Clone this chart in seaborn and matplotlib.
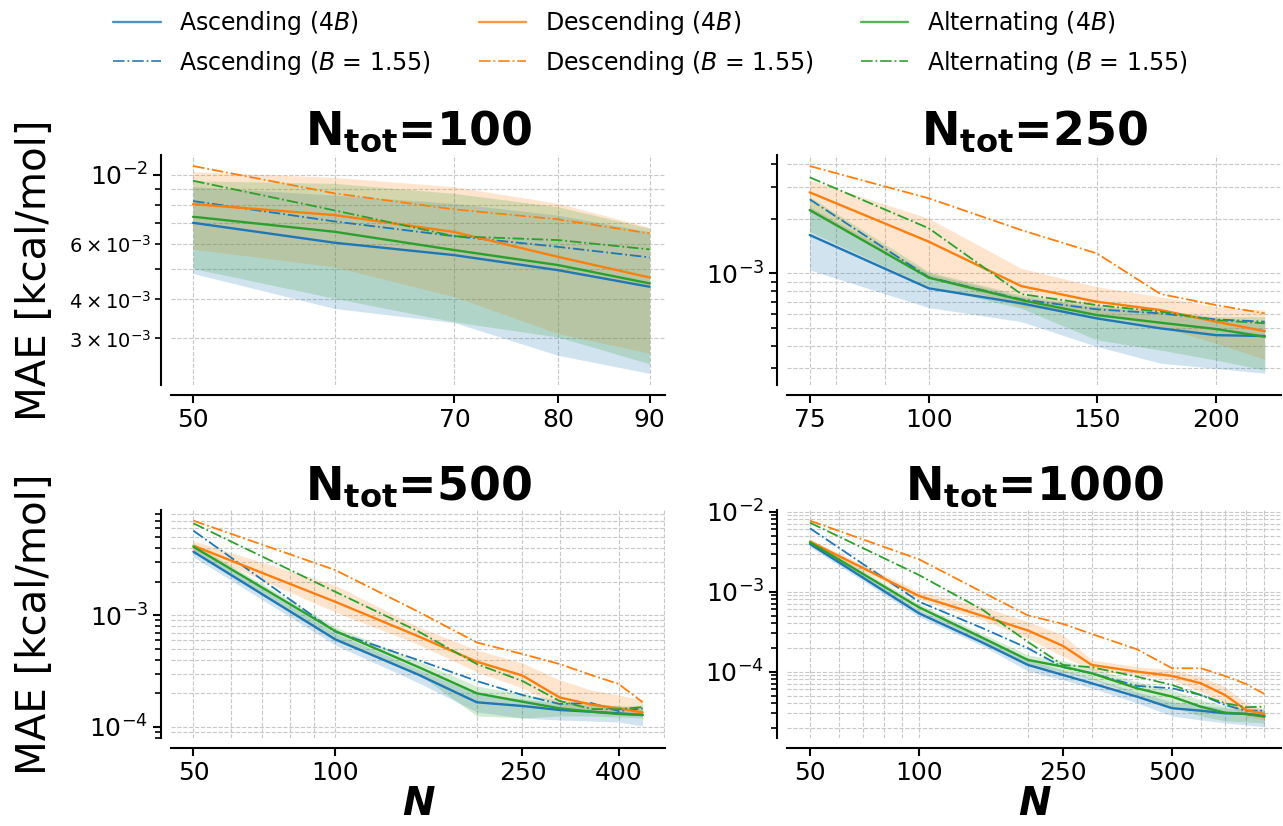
import matplotlib
matplotlib.use("Agg")
import matplotlib.pyplot as plt
import seaborn as sns
from matplotlib.lines import Line2D
from matplotlib.ticker import NullFormatter

# ---------------- data ----------------
N_tot = [100, 250, 500, 1000]

N1 = [50, 60, 70, 80, 90]
N2 = [75, 100, 125, 150, 175, 200, 225]
N3 = [50, 100, 150, 200, 250, 300, 350, 400, 450]
N4 = [50, 100, 150, 200, 250, 300, 400, 500, 600, 700, 800, 900]

xticks1 = [50, 70, 80, 90]
xticks2 = [75, 100, 150, 200]
xticks3 = [50, 100, 250, 400]
xticks4 = [50, 100, 250, 500]

# panel N_tot = 100
asc4_1 = [7.03e-3, 6.07e-3, 5.54e-3, 4.96e-3, 4.39e-3]
desc4_1 = [8.07e-3, 7.44e-3, 6.57e-3, 5.47e-3, 4.70e-3]
alt4_1 = [7.35e-3, 6.58e-3, 5.75e-3, 5.15e-3, 4.50e-3]
ascB_1 = [8.25e-3, 7.10e-3, 6.37e-3, 5.89e-3, 5.45e-3]
descB_1 = [1.068e-2, 8.73e-3, 7.76e-3, 7.21e-3, 6.50e-3]
altB_1 = [9.58e-3, 7.70e-3, 6.37e-3, 6.19e-3, 5.78e-3]
asc4_lo_1 = [4.84e-3, 3.74e-3, 3.37e-3, 2.65e-3, 2.32e-3]
asc4_hi_1 = [9.17e-3, 8.62e-3, 8.11e-3, 7.44e-3, 6.58e-3]
desc4_lo_1 = [5.79e-3, 5.08e-3, 4.08e-3, 3.11e-3, 2.69e-3]
desc4_hi_1 = [1.024e-2, 9.82e-3, 9.17e-3, 8.11e-3, 6.80e-3]
alt4_lo_1 = [5.02e-3, 4.03e-3, 3.39e-3, 3.03e-3, 2.49e-3]
alt4_hi_1 = [9.58e-3, 9.40e-3, 8.73e-3, 7.91e-3, 6.75e-3]

# panel N_tot = 250
asc4_2 = [1.626e-3, 8.27e-4, 6.84e-4, 5.65e-4, 4.98e-4, 4.57e-4, 4.52e-4]
desc4_2 = [2.792e-3, 1.493e-3, 8.51e-4, 6.98e-4, 6.28e-4, 5.42e-4, 4.81e-4]
alt4_2 = [2.231e-3, 9.46e-4, 7.13e-4, 5.89e-4, 5.35e-4, 4.94e-4, 4.48e-4]
ascB_2 = [2.555e-3, 9.51e-4, 7.19e-4, 6.34e-4, 6.02e-4, 5.58e-4, 5.42e-4]
descB_2 = [3.895e-3, 2.587e-3, 1.731e-3, 1.288e-3, 7.69e-4, 6.69e-4, 6.02e-4]
altB_2 = [3.376e-3, 1.769e-3, 7.69e-4, 6.69e-4, 6.15e-4, 5.53e-4, 5.31e-4]
asc4_lo_2 = [1.043e-3, 6.48e-4, 5.42e-4, 3.96e-4, 3.20e-4, 3.00e-4, 2.82e-4]
asc4_hi_2 = [2.325e-3, 1.0e-3, 7.43e-4, 6.55e-4, 6.15e-4, 5.53e-4, 5.42e-4]
desc4_lo_2 = [2.183e-3, 9.58e-4, 6.55e-4, 6.02e-4, 5.08e-4, 4.12e-4, 3.36e-4]
desc4_hi_2 = [3.263e-3, 2.007e-3, 1.065e-3, 8.44e-4, 7.43e-4, 6.55e-4, 6.28e-4]
alt4_lo_2 = [1.694e-3, 8.44e-4, 6.42e-4, 4.30e-4, 3.78e-4, 3.33e-4, 2.94e-4]
alt4_hi_2 = [2.640e-3, 1.02e-3, 7.60e-4, 6.69e-4, 6.28e-4, 5.77e-4, 5.77e-4]

# panel N_tot = 500
asc4_3 = [3.71e-3, 6.10e-4, 2.95e-4, 1.664e-4, 1.542e-4, 1.420e-4, 1.371e-4, 1.326e-4, 1.281e-4]
desc4_3 = [4.20e-3, 1.323e-3, 6.50e-4, 3.84e-4, 2.89e-4, 1.836e-4, 1.590e-4, 1.470e-4, 1.348e-4]
alt4_3 = [4.11e-3, 7.24e-4, 3.45e-4, 2.003e-4, 1.684e-4, 1.470e-4, 1.371e-4, 1.307e-4, 1.281e-4]
ascB_3 = [5.72e-3, 7.13e-4, 3.98e-4, 2.58e-4, 1.934e-4, 1.607e-4, 1.640e-4, 1.390e-4, 1.470e-4]
descB_3 = [7.03e-3, 2.544e-3, 1.08e-3, 5.71e-4, 4.50e-4, 3.66e-4, 2.92e-4, 2.43e-4, 1.667e-4]
altB_3 = [6.66e-3, 1.627e-3, 7.20e-4, 3.66e-4, 2.58e-4, 1.709e-4, 1.449e-4, 1.441e-4, 1.510e-4]
asc4_lo_3 = [3.33e-3, 5.42e-4, 2.50e-4, 1.362e-4, 1.204e-4, 1.155e-4, 1.132e-4, 1.108e-4, 1.021e-4]
asc4_hi_3 = [4.09e-3, 6.95e-4, 3.30e-4, 1.974e-4, 1.781e-4, 1.640e-4, 1.574e-4, 1.542e-4, 1.479e-4]
desc4_lo_3 = [3.84e-3, 1.070e-3, 5.50e-4, 3.11e-4, 2.235e-4, 1.542e-4, 1.390e-4, 1.307e-4, 1.254e-4]
desc4_hi_3 = [4.63e-3, 1.867e-3, 7.90e-4, 4.89e-4, 3.74e-4, 2.64e-4, 2.144e-4, 1.934e-4, 1.745e-4]
alt4_lo_3 = [3.80e-3, 5.90e-4, 3.00e-4, 1.254e-4, 1.204e-4, 1.254e-4, 1.254e-4, 1.229e-4, 1.204e-4]
alt4_hi_3 = [4.40e-3, 7.90e-4, 3.90e-4, 2.33e-4, 1.974e-4, 1.745e-4, 1.607e-4, 1.542e-4, 1.542e-4]

# panel N_tot = 1000
asc4_4 = [3.95e-3, 5.37e-4, 2.304e-4, 1.213e-4, 9.09e-5, 7.16e-5, 4.87e-5, 3.49e-5, 3.25e-5, 3.02e-5, 2.96e-5, 2.79e-5]
desc4_4 = [4.22e-3, 8.84e-4, 4.97e-4, 3.27e-4, 2.096e-4, 1.213e-4, 1.0e-4, 8.84e-5, 7.16e-5, 5.11e-5, 3.32e-5, 2.96e-5]
alt4_4 = [4.14e-3, 6.38e-4, 2.64e-4, 1.400e-4, 1.155e-4, 9.55e-5, 6.20e-5, 4.87e-5, 3.65e-5, 3.07e-5, 2.96e-5, 2.74e-5]
ascB_4 = [6.20e-3, 7.50e-4, 3.49e-4, 1.961e-4, 1.135e-4, 9.55e-5, 6.63e-5, 6.20e-5, 5.11e-5, 3.84e-5, 3.25e-5, 3.25e-5]
descB_4 = [7.72e-3, 2.541e-3, 9.83e-4, 5.04e-4, 3.95e-4, 2.96e-4, 1.905e-4, 1.103e-4, 1.103e-4, 8.84e-5, 7.02e-5, 5.26e-5]
altB_4 = [7.29e-3, 1.617e-3, 5.91e-4, 2.35e-4, 1.213e-4, 1.135e-4, 8.66e-5, 6.82e-5, 5.11e-5, 4.03e-5, 3.59e-5, 3.65e-5]
asc4_lo_4 = [3.62e-3, 4.83e-4, 2.096e-4, 1.020e-4, 7.87e-5, 6.25e-5, 4.06e-5, 2.79e-5, 2.49e-5, 2.28e-5, 2.16e-5, 2.04e-5]
asc4_hi_4 = [4.30e-3, 5.91e-4, 2.715e-4, 1.400e-4, 1.050e-4, 8.34e-5, 5.57e-5, 4.18e-5, 3.84e-5, 3.52e-5, 3.42e-5, 3.32e-5]
desc4_lo_4 = [3.84e-3, 8.04e-4, 4.43e-4, 2.615e-4, 1.540e-4, 1.050e-4, 9.09e-5, 7.87e-5, 5.62e-5, 4.03e-5, 2.74e-5, 2.49e-5]
desc4_hi_4 = [4.52e-3, 1.0e-3, 6.49e-4, 4.22e-4, 2.88e-4, 1.400e-4, 1.155e-4, 1.050e-4, 8.66e-5, 6.49e-5, 4.03e-5, 3.32e-5]
alt4_lo_4 = [3.84e-3, 5.74e-4, 2.42e-4, 1.213e-4, 9.91e-5, 8.10e-5, 5.11e-5, 3.62e-5, 2.79e-5, 2.42e-5, 2.35e-5, 2.28e-5]
alt4_hi_4 = [4.56e-3, 7.02e-4, 2.96e-4, 1.617e-4, 1.361e-4, 1.113e-4, 7.43e-5, 5.90e-5, 4.43e-5, 3.73e-5, 3.52e-5, 3.52e-5]

orders = ["Ascending", "Descending", "Alternating"]
colors = {"Ascending": "#1f77b4", "Descending": "#ff7f0e", "Alternating": "#2ca02c"}

panels = [
    dict(N=N1, ticks=xticks1, xlim=(48.6, 91.8), ylim=(2.13e-3, 1.158e-2),
         s4={"Ascending": asc4_1, "Descending": desc4_1, "Alternating": alt4_1},
         sB={"Ascending": ascB_1, "Descending": descB_1, "Alternating": altB_1},
         lo={"Ascending": asc4_lo_1, "Descending": desc4_lo_1, "Alternating": alt4_lo_1},
         hi={"Ascending": asc4_hi_1, "Descending": desc4_hi_1, "Alternating": alt4_hi_1}),
    dict(N=N2, ticks=xticks2, xlim=(71.0, 234.0), ylim=(2.43e-4, 4.48e-3),
         s4={"Ascending": asc4_2, "Descending": desc4_2, "Alternating": alt4_2},
         sB={"Ascending": ascB_2, "Descending": descB_2, "Alternating": altB_2},
         lo={"Ascending": asc4_lo_2, "Descending": desc4_lo_2, "Alternating": alt4_lo_2},
         hi={"Ascending": asc4_hi_2, "Descending": desc4_hi_2, "Alternating": alt4_hi_2}),
    dict(N=N3, ticks=xticks3, xlim=(44.8, 502.0), ylim=(7.97e-5, 8.77e-3),
         s4={"Ascending": asc4_3, "Descending": desc4_3, "Alternating": alt4_3},
         sB={"Ascending": ascB_3, "Descending": descB_3, "Alternating": altB_3},
         lo={"Ascending": asc4_lo_3, "Descending": desc4_lo_3, "Alternating": alt4_lo_3},
         hi={"Ascending": asc4_hi_3, "Descending": desc4_hi_3, "Alternating": alt4_hi_3}),
    dict(N=N4, ticks=xticks4, xlim=(43.2, 1000.0), ylim=(1.48e-5, 1.05e-2),
         s4={"Ascending": asc4_4, "Descending": desc4_4, "Alternating": alt4_4},
         sB={"Ascending": ascB_4, "Descending": descB_4, "Alternating": altB_4},
         lo={"Ascending": asc4_lo_4, "Descending": desc4_lo_4, "Alternating": alt4_lo_4},
         hi={"Ascending": asc4_hi_4, "Descending": desc4_hi_4, "Alternating": alt4_hi_4}),
]

# ---------------- style ----------------
sns.set_theme(style="ticks")
plt.rcParams["font.family"] = ["DejaVu Sans"]
plt.rcParams["mathtext.fontset"] = "dejavusans"
for k in ["text.color", "axes.labelcolor", "xtick.color", "ytick.color", "axes.edgecolor"]:
    plt.rcParams[k] = "black"
plt.rcParams["axes.linewidth"] = 1.5
plt.rcParams["xtick.major.width"] = 1.5
plt.rcParams["ytick.major.width"] = 1.5
plt.rcParams["ytick.minor.width"] = 1.2
plt.rcParams["xtick.major.size"] = 6
plt.rcParams["ytick.major.size"] = 6
plt.rcParams["ytick.minor.size"] = 4

W, H = 1283, 826
fig = plt.figure(figsize=(W / 100, H / 100), dpi=100)


def rect(l, t, r, b):
    return [l / W, (H - b) / H, (r - l) / W, (b - t) / H]


rects = [rect(171, 155, 665, 385), rect(787, 155, 1281, 385),
         rect(171, 510, 665, 738), rect(787, 510, 1281, 738)]

for i, (p, r) in enumerate(zip(panels, rects)):
    ax = fig.add_axes(r)
    ax.set_xscale("log")
    ax.set_yscale("log")
    for name in orders:
        ax.fill_between(p["N"], p["lo"][name], p["hi"][name],
                        color=colors[name], alpha=0.2, lw=0)
    for name in orders:
        sns.lineplot(x=p["N"], y=p["s4"][name], ax=ax, color=colors[name], lw=1.7)
        sns.lineplot(x=p["N"], y=p["sB"][name], ax=ax, color=colors[name], lw=1.3,
                     linestyle="-.")
    ax.set_xlim(*p["xlim"])
    ax.set_ylim(*p["ylim"])
    ax.set_xticks(p["ticks"])
    ax.set_xticklabels([str(t) for t in p["ticks"]])
    ax.xaxis.set_minor_formatter(NullFormatter())
    ax.tick_params(axis="x", which="minor", length=0)
    ax.tick_params(axis="both", which="major", labelsize=18)
    ax.tick_params(axis="y", which="minor", labelsize=14)
    ax.grid(True, which="both", ls="--", color="#c8c8c8", lw=0.8)
    ax.set_title(r"$\mathbf{N_{tot}}$=" + str(N_tot[i]), fontsize=33,
                 fontweight="bold")
    if i % 2 == 0:
        ax.set_ylabel("MAE [kcal/mol]", fontsize=29)
        ax.yaxis.set_label_coords(-0.235, 0.5)
    if i >= 2:
        ax.set_xlabel("N", fontsize=28, fontweight="bold", fontstyle="italic",
                      labelpad=0)
    sns.despine(ax=ax, offset=7)

handles, labels = [], []
for name in orders:
    handles.append(Line2D([], [], color=colors[name], lw=1.7, alpha=0.8))
    labels.append(name + " (4$B$)")
    handles.append(Line2D([], [], color=colors[name], lw=1.3, ls="-.", alpha=0.9))
    labels.append(name + " ($B$ = 1.55)")

fig.legend(handles, labels, loc="upper center", bbox_to_anchor=(0.507, 1.015), ncol=3,
           frameon=False, fontsize=17)

fig.savefig("out.png", dpi=100)
